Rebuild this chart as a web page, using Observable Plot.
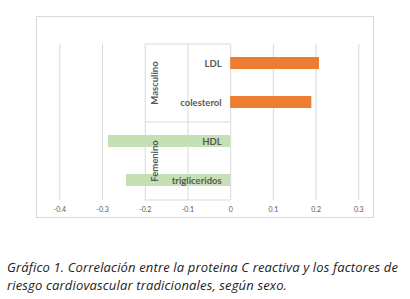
<!DOCTYPE html>
<html>
<head>
<meta charset="utf-8">
<script src="https://cdn.jsdelivr.net/npm/d3@7"></script>
<script src="https://cdn.jsdelivr.net/npm/@observablehq/plot@0.6"></script>
<style>
  html, body { margin: 0; padding: 0; background: #fff; }
  #wrap { position: relative; width: 410px; height: 299px; }
  #frame { position: absolute; left: 36px; top: 16px; width: 336px; height: 200px; border: 1px solid #d9d9d9; box-sizing: content-box; }
  #chart { position: absolute; left: 0; top: 0; }
  #caption { position: absolute; left: 7px; top: 258px; font-family: "Open Sans", sans-serif; font-style: italic; font-size: 13px; letter-spacing: 0.15px; line-height: 18px; color: #222; white-space: nowrap; }
</style>
</head>
<body>
<div id="wrap">
  <div id="frame"></div>
  <div id="chart"></div>
  <div id="caption">Gráfico 1. Correlación entre la proteina C reactiva y los factores de<br>riesgo cardiovascular tradicionales, según sexo.</div>
</div>
<script>
const categories = ["LDL", "colesterol", "HDL", "trigliceridos"];
const groups = ["Masculino", "Masculino", "Femenino", "Femenino"];
const values = [0.208, 0.19, -0.286, -0.244];
const groupNames = ["Masculino", "Femenino"];
const groupFirstCategory = ["LDL", "HDL"];
const groupLastCategory = ["colesterol", "trigliceridos"];
const xTicks = [-0.4, -0.3, -0.2, -0.1, 0, 0.1, 0.2, 0.3];
const groupColors = ["#ED7D31", "#C5E0B4"];

const data = categories.map((c, i) => ({category: c, group: groups[i], value: values[i]}));
const groupData = groupNames.map((g, i) => ({group: g, first: groupFirstCategory[i], last: groupLastCategory[i]}));

const halfStep = 19.5;
const boxLeft = -0.2;
const textColor = "#595959";
const gridColor = "#d9d9d9";

const plot = Plot.plot({
  width: 410,
  height: 240,
  marginLeft: 59.3,
  marginRight: 51.7,
  marginTop: 44,
  marginBottom: 40,
  style: {fontFamily: "Lato, sans-serif", background: "transparent", overflow: "visible"},
  x: {domain: [-0.4, 0.3], ticks: xTicks, tickFormat: d => String(d), tickSize: 0, tickPadding: 7, label: null},
  y: {domain: categories, paddingInner: 0.69, paddingOuter: 0.345, axis: null},
  color: {domain: groupNames, range: groupColors},
  marks: [
    Plot.ruleX(xTicks, {stroke: gridColor, strokeWidth: 1, strokeOpacity: 1}),
    Plot.ruleY(groupData, {y: "first", dy: -halfStep, x1: boxLeft, x2: 0, stroke: gridColor, strokeOpacity: 1}),
    Plot.ruleY(groupData.slice(-1), {y: "last", dy: halfStep, x1: boxLeft, x2: 0, stroke: gridColor, strokeOpacity: 1}),
    Plot.barX(data, {y: "category", x: "value", fill: "group"}),
    Plot.text(data, {y: "category", x: 0, text: "category", textAnchor: "end", dx: -9, fill: textColor, fontWeight: "bold", fontSize: 9.5}),
    Plot.text(groupData, {y: "first", dy: halfStep, x: boxLeft, dx: 9.5, text: "group", rotate: -90, fill: textColor, fontWeight: "bold", fontSize: 9.5}),
    Plot.axisX({ticks: xTicks, tickFormat: d => String(d), tickSize: 0, tickPadding: 7, fill: textColor, fontSize: 7, label: null})
  ]
});
document.getElementById("chart").appendChild(plot);
</script>
</body>
</html>
